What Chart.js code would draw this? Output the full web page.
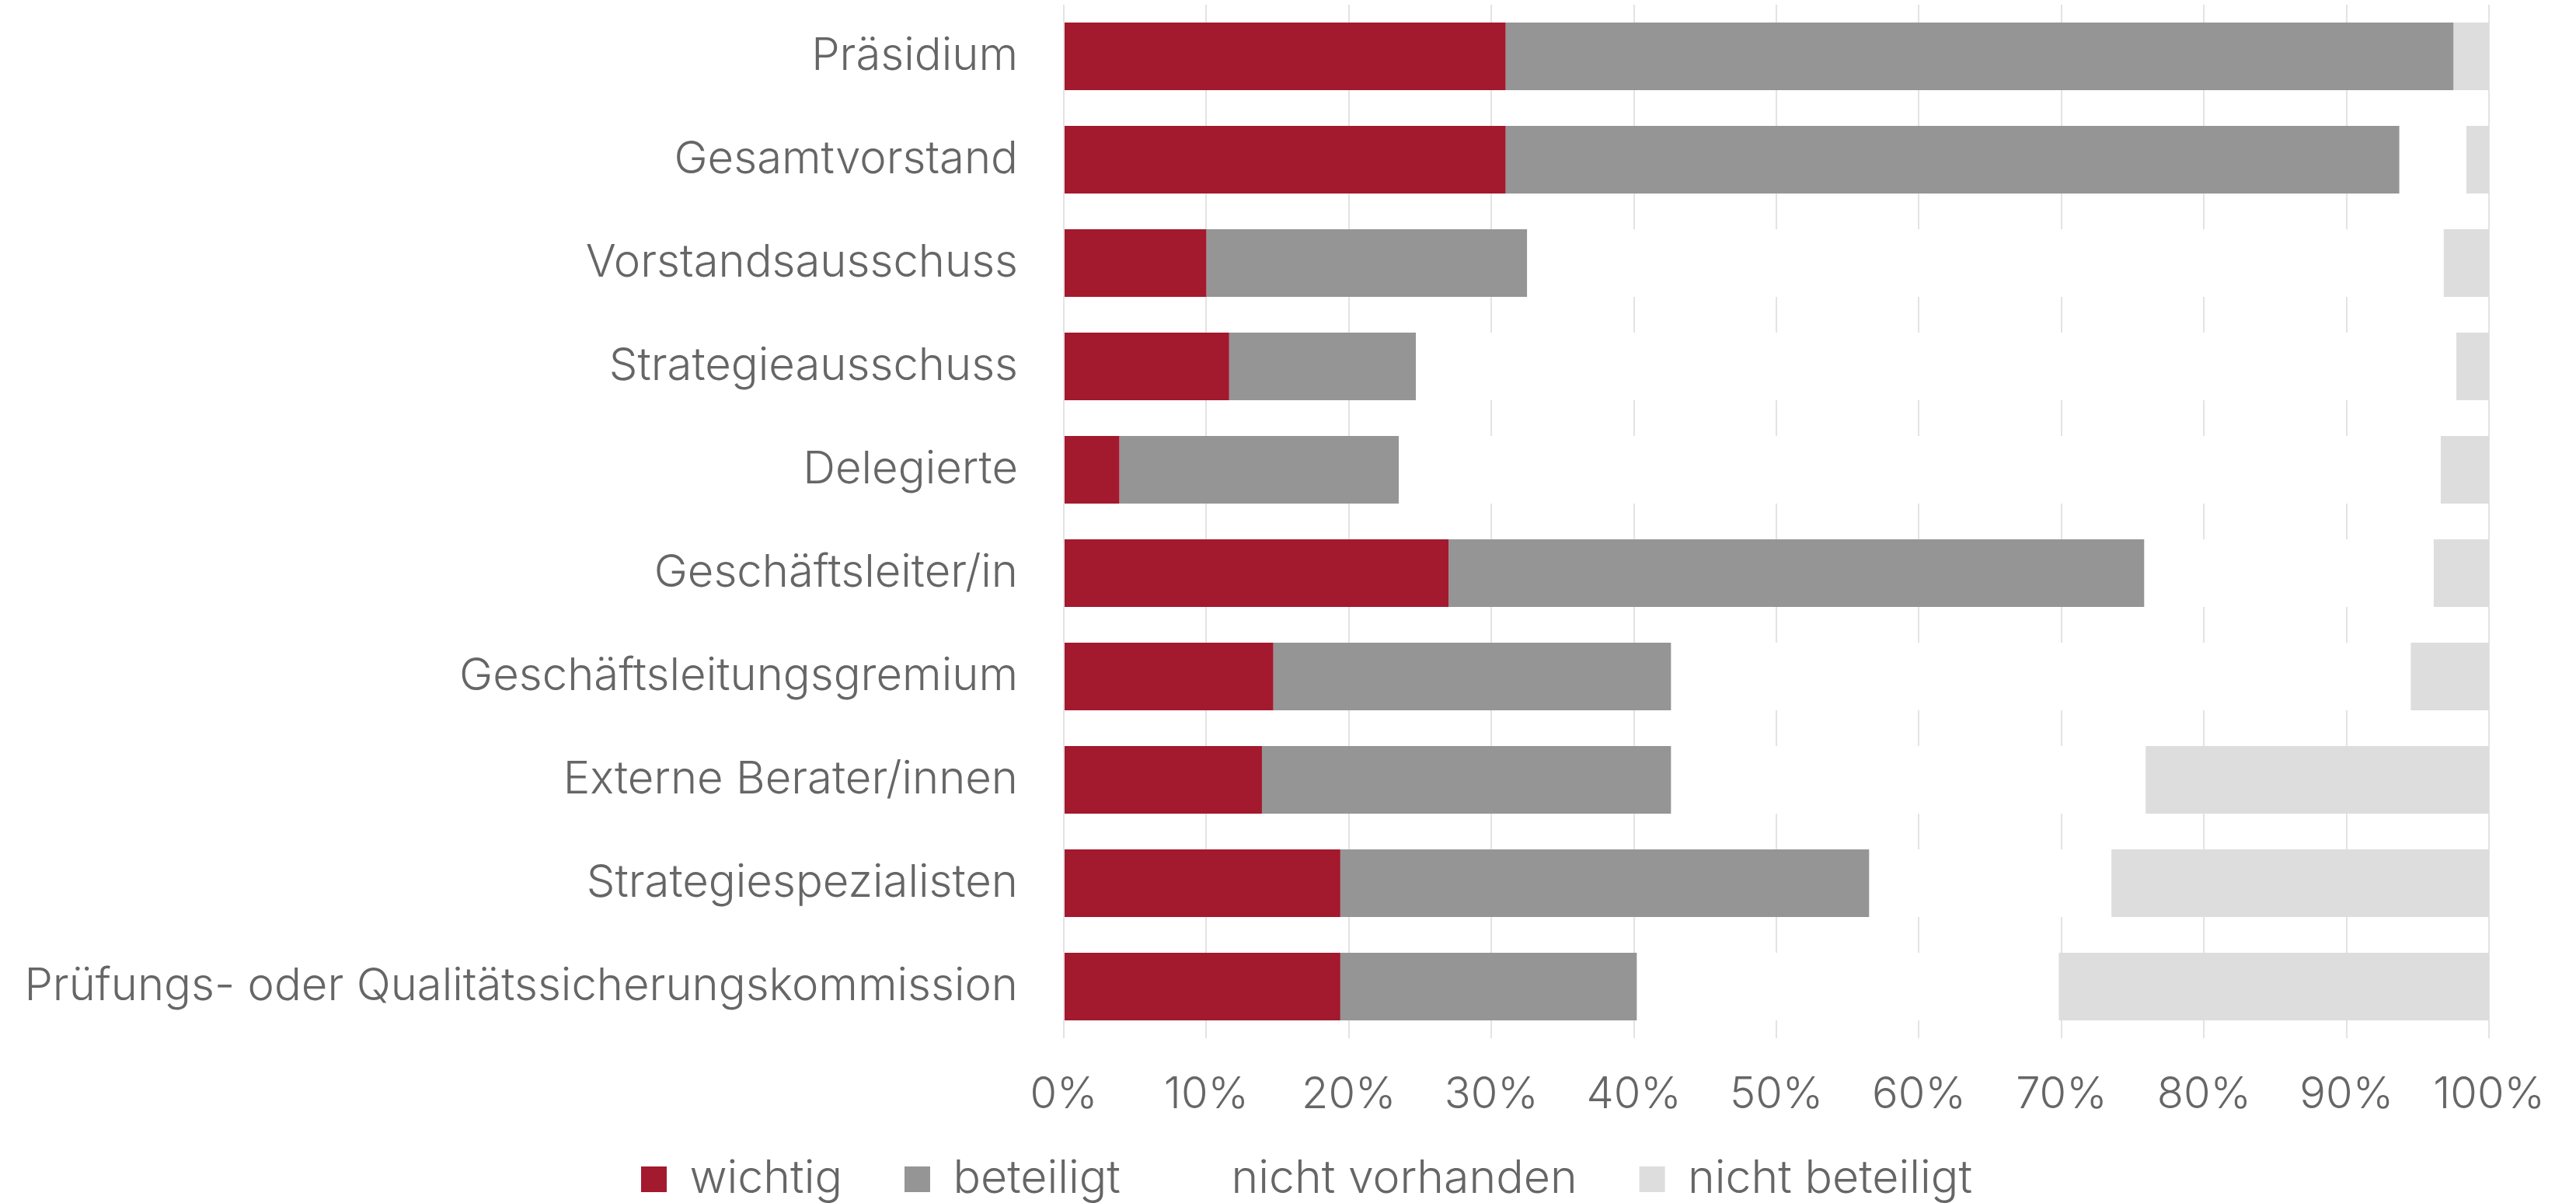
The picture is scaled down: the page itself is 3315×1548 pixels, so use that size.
<!DOCTYPE html>
<html>
<head>
<meta charset="utf-8">
<script src="https://cdn.jsdelivr.net/npm/chart.js@4/dist/chart.umd.min.js"></script>
<style>
  html, body { margin: 0; padding: 0; background: #ffffff; }
  #wrap { width: 3315px; height: 1548px; position: relative; }
</style>
</head>
<body>
<div id="wrap"><canvas id="c"></canvas></div>
<script>
const categories = [
  "Präsidium",
  "Gesamtvorstand",
  "Vorstandsausschuss",
  "Strategieausschuss",
  "Delegierte",
  "Geschäftsleiter/in",
  "Geschäftsleitungsgremium",
  "Externe Berater/innen",
  "Strategiespezialisten",
  "Prüfungs- oder Qualitätssicherungskommission"
];
const wichtig        = [31.0, 31.0, 10.0, 11.6,  3.9, 27.0, 14.7, 13.9, 19.4, 19.4];
const beteiligt      = [66.5, 62.7, 22.5, 13.1, 19.6, 48.8, 27.9, 28.7, 37.1, 20.8];
const nichtVorhanden = [ 0.0,  4.7, 64.3, 73.0, 73.1, 20.3, 51.9, 33.3, 17.0, 29.6];
const nichtBeteiligt = [ 2.5,  1.6,  3.2,  2.3,  3.4,  3.9,  5.5, 24.1, 26.5, 30.2];
const seriesNames = ["wichtig", "beteiligt", "nicht vorhanden", "nicht beteiligt"];
const tickValues = [0, 10, 20, 30, 40, 50, 60, 70, 80, 90, 100];

const textColor = "#666666";
const fontFamily = "Inter, Roboto, 'Liberation Sans', sans-serif";

// place the legend row: its text centre sits near the bottom of the picture
const legendPlacer = {
  id: "legendPlacer",
  afterLayout(chart) {
    const lg = chart.legend;
    if (!lg) return;
    lg.top = 1408;
    lg.bottom = chart.height;
    lg.height = lg.bottom - lg.top;
    lg.left += 75;
    lg.right += 75;
  }
};

const ctx = document.getElementById("c");
new Chart(ctx, {
  type: "bar",
  data: {
    labels: categories,
    datasets: [
      { label: seriesNames[0], data: wichtig,        backgroundColor: "#A3192D" },
      { label: seriesNames[1], data: beteiligt,      backgroundColor: "#959595" },
      { label: seriesNames[2], data: nichtVorhanden, backgroundColor: "#ffffff" },
      { label: seriesNames[3], data: nichtBeteiligt, backgroundColor: "#DDDDDD" }
    ]
  },
  plugins: [legendPlacer],
  options: {
    indexAxis: "y",
    responsive: true,
    maintainAspectRatio: false,
    animation: false,
    devicePixelRatio: 1,
    layout: { padding: { top: 6, right: 102, left: 0, bottom: 0 } },
    datasets: { bar: { barPercentage: 0.655, categoryPercentage: 1.0, borderWidth: 0 } },
    scales: {
      x: {
        stacked: true,
        min: 0, max: 100,
        afterBuildTicks: (scale) => { scale.ticks = tickValues.map(v => ({ value: v })); },
        afterFit: (scale) => { scale.height = 192; },
        grid: { display: true, color: "#E3E3E3", lineWidth: 2, drawTicks: false },
        border: { display: false },
        ticks: {
          padding: 40,
          color: textColor,
          font: { family: fontFamily, size: 56, weight: 300 },
          callback: (v) => v + "%",
          maxRotation: 0
        }
      },
      y: {
        stacked: true,
        afterFit: (scale) => { scale.width = 1369; scale.paddingTop = 0; scale.paddingBottom = 0; },
        grid: { display: false, drawTicks: false },
        border: { display: false },
        ticks: {
          padding: 59,
          color: textColor,
          font: { family: fontFamily, size: 58, weight: 300 }
        }
      }
    },
    plugins: {
      tooltip: { enabled: false },
      legend: {
        display: true,
        position: "bottom",
        maxHeight: 20,
        labels: {
          boxWidth: 33,
          boxHeight: 33,
          padding: 80,
          color: textColor,
          font: { family: fontFamily, size: 59, weight: 300 }
        }
      }
    }
  }
});
</script>
</body>
</html>
